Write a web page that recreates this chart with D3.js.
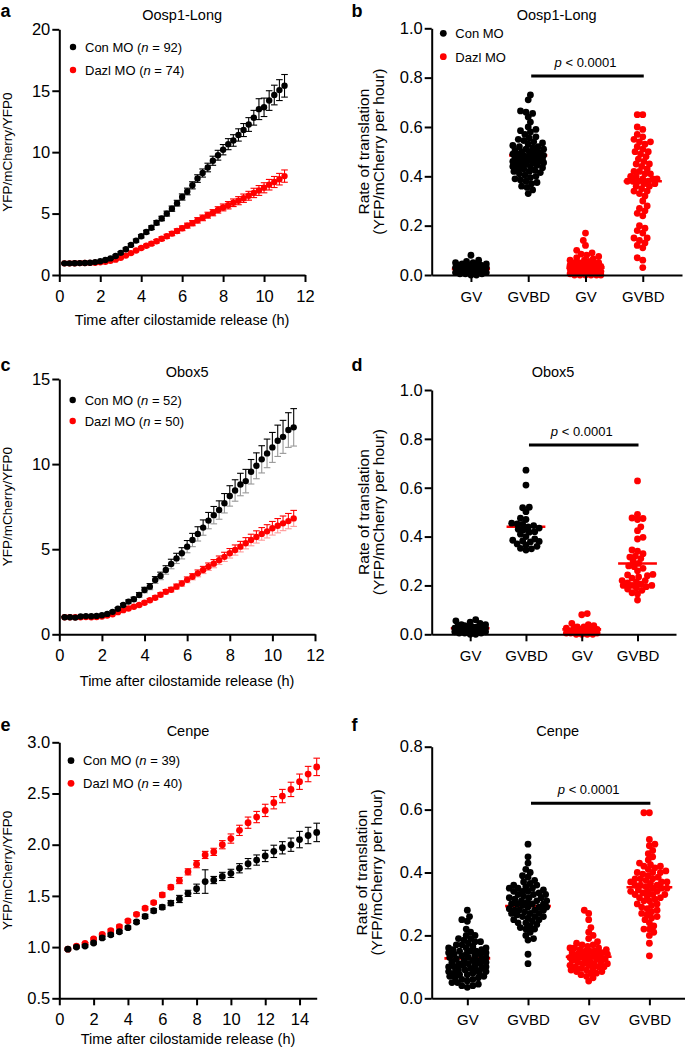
<!DOCTYPE html>
<html>
<head>
<meta charset="utf-8">
<script src="https://cdn.jsdelivr.net/npm/d3@7"></script>
<style>
body { margin: 0; background: #fff; }
svg text { font-family: "Liberation Sans", Arial, Helvetica, sans-serif; fill: #000; }
</style>
</head>
<body>
<script>
// ---- time course data (hours) ----
var timesQuarter = [0.25, 0.5, 0.75, 1, 1.25, 1.5, 1.75, 2, 2.25, 2.5, 2.75, 3, 3.25, 3.5, 3.75, 4, 4.25, 4.5, 4.75, 5, 5.25, 5.5, 5.75, 6, 6.25, 6.5, 6.75, 7, 7.25, 7.5, 7.75, 8, 8.25, 8.5, 8.75, 9, 9.25, 9.5, 9.75, 10, 10.25, 10.5, 10.75, 11];
var timesHalf = [0.5, 1, 1.5, 2, 2.5, 3, 3.5, 4, 4.5, 5, 5.5, 6, 6.5, 7, 7.5, 8, 8.5, 9, 9.5, 10, 10.5, 11, 11.5, 12, 12.5, 13, 13.5, 14, 14.5, 15];

// Oosp1-Long
var oospCon = [0.95, 0.95, 0.96, 0.97, 0.98, 1.0, 1.05, 1.12, 1.22, 1.35, 1.55, 1.8, 2.1, 2.45, 2.8, 3.15, 3.5, 3.85, 4.25, 4.6, 5.0, 5.4, 5.85, 6.35, 6.8, 7.3, 7.85, 8.3, 8.75, 9.3, 9.75, 10.2, 10.65, 10.95, 11.4, 11.8, 12.25, 12.8, 13.5, 13.65, 14.2, 14.65, 15.05, 15.4];
var oospConSem = [0.04, 0.04, 0.04, 0.04, 0.04, 0.05, 0.05, 0.05, 0.06, 0.07, 0.08, 0.09, 0.1, 0.11, 0.12, 0.13, 0.14, 0.15, 0.17, 0.18, 0.2, 0.21, 0.23, 0.25, 0.27, 0.29, 0.31, 0.33, 0.35, 0.37, 0.4, 0.42, 0.45, 0.47, 0.5, 0.53, 0.56, 0.6, 0.85, 0.75, 0.8, 0.8, 0.85, 0.92];
var oospDazl = [0.95, 0.95, 0.96, 0.97, 0.98, 0.99, 1.0, 1.03, 1.08, 1.15, 1.25, 1.4, 1.58, 1.78, 2.0, 2.2, 2.38, 2.55, 2.75, 2.95, 3.15, 3.37, 3.58, 3.8, 4.02, 4.22, 4.45, 4.65, 4.87, 5.07, 5.3, 5.5, 5.68, 5.88, 6.05, 6.25, 6.45, 6.68, 6.88, 7.1, 7.35, 7.57, 7.8, 8.05];
var oospDazlSem = [0.03, 0.03, 0.03, 0.03, 0.03, 0.03, 0.03, 0.03, 0.04, 0.05, 0.06, 0.07, 0.08, 0.09, 0.1, 0.11, 0.12, 0.13, 0.14, 0.15, 0.16, 0.17, 0.18, 0.19, 0.2, 0.21, 0.22, 0.23, 0.24, 0.25, 0.26, 0.28, 0.3, 0.31, 0.33, 0.34, 0.36, 0.38, 0.4, 0.41, 0.43, 0.45, 0.47, 0.5];

// Obox5
var oboxCon = [1.0, 1.0, 0.98, 1.05, 1.07, 1.06, 1.08, 1.12, 1.2, 1.32, 1.5, 1.72, 1.92, 2.06, 2.31, 2.6, 2.8, 3.19, 3.43, 3.78, 4.13, 4.46, 4.76, 5.15, 5.54, 5.9, 6.27, 6.68, 7.0, 7.3, 7.7, 8.13, 8.45, 8.8, 9.0, 9.55, 9.9, 10.28, 10.63, 10.98, 11.37, 11.6, 12.0, 12.16];
var oboxConSem = [0.04, 0.04, 0.04, 0.04, 0.04, 0.04, 0.04, 0.04, 0.05, 0.06, 0.07, 0.08, 0.1, 0.12, 0.14, 0.16, 0.18, 0.2, 0.22, 0.25, 0.28, 0.3, 0.33, 0.36, 0.39, 0.42, 0.45, 0.48, 0.51, 0.54, 0.57, 0.6, 0.63, 0.66, 0.69, 0.72, 0.76, 0.8, 0.84, 0.88, 0.92, 0.97, 1.02, 1.1];
var oboxDazl = [1.0, 1.0, 1.0, 1.0, 1.02, 1.0, 1.02, 1.05, 1.1, 1.18, 1.3, 1.42, 1.52, 1.62, 1.72, 1.85, 2.0, 2.15, 2.32, 2.5, 2.62, 2.8, 2.98, 3.2, 3.38, 3.58, 3.78, 3.97, 4.15, 4.35, 4.55, 4.76, 4.95, 5.15, 5.35, 5.54, 5.72, 5.9, 6.05, 6.23, 6.38, 6.52, 6.65, 6.81];
var oboxDazlSem = [0.03, 0.03, 0.03, 0.03, 0.03, 0.03, 0.03, 0.03, 0.04, 0.04, 0.05, 0.05, 0.06, 0.07, 0.08, 0.09, 0.1, 0.11, 0.12, 0.13, 0.14, 0.15, 0.16, 0.17, 0.18, 0.2, 0.21, 0.22, 0.24, 0.25, 0.27, 0.28, 0.3, 0.31, 0.33, 0.34, 0.36, 0.37, 0.39, 0.4, 0.42, 0.43, 0.45, 0.47];

// Cenpe
var cenpeCon = [0.98, 1.0, 1.01, 1.04, 1.09, 1.12, 1.15, 1.19, 1.245, 1.3, 1.355, 1.39, 1.43, 1.47, 1.525, 1.57, 1.64, 1.655, 1.69, 1.72, 1.77, 1.815, 1.85, 1.89, 1.935, 1.97, 2.0, 2.05, 2.09, 2.12];
var cenpeConSem = [0.01, 0.01, 0.01, 0.01, 0.015, 0.015, 0.015, 0.015, 0.015, 0.02, 0.02, 0.02, 0.025, 0.035, 0.03, 0.045, 0.115, 0.035, 0.04, 0.04, 0.045, 0.05, 0.05, 0.055, 0.06, 0.06, 0.065, 0.08, 0.08, 0.09];
var cenpeDazl = [0.98, 1.01, 1.035, 1.08, 1.125, 1.16, 1.2, 1.255, 1.32, 1.38, 1.435, 1.51, 1.585, 1.65, 1.735, 1.81, 1.9, 1.93, 2.0, 2.06, 2.14, 2.215, 2.27, 2.335, 2.41, 2.475, 2.54, 2.615, 2.69, 2.76];
var cenpeDazlSem = [0.01, 0.01, 0.01, 0.01, 0.01, 0.015, 0.015, 0.015, 0.015, 0.015, 0.015, 0.02, 0.02, 0.03, 0.03, 0.035, 0.035, 0.035, 0.04, 0.045, 0.05, 0.055, 0.055, 0.06, 0.06, 0.065, 0.07, 0.075, 0.075, 0.085];

// ---- rate of translation (scatter) ----
var stageLabels = ["GV", "GVBD", "GV", "GVBD"];

var oospConGV = [0.08, 0.06, 0.055, 0.05, 0.05, 0.045, 0.045, 0.04, 0.04, 0.04, 0.035, 0.035, 0.035, 0.03, 0.03, 0.03, 0.03, 0.03, 0.025, 0.025, 0.025, 0.025, 0.025, 0.02, 0.02, 0.02, 0.02, 0.02, 0.02, 0.015, 0.015, 0.015, 0.015, 0.01, 0.01, 0.01, 0.01, 0.01, 0.005, 0.005, 0.005, 0.0, 0.0, 0.03, 0.02, 0.04];
var oospConGVBD = [0.73, 0.71, 0.665, 0.66, 0.655, 0.64, 0.62, 0.6, 0.59, 0.585, 0.58, 0.57, 0.56, 0.555, 0.55, 0.545, 0.54, 0.535, 0.53, 0.525, 0.52, 0.52, 0.515, 0.51, 0.51, 0.505, 0.5, 0.5, 0.5, 0.495, 0.49, 0.49, 0.49, 0.485, 0.485, 0.48, 0.48, 0.48, 0.475, 0.475, 0.47, 0.47, 0.47, 0.465, 0.465, 0.46, 0.46, 0.46, 0.455, 0.455, 0.45, 0.45, 0.445, 0.445, 0.44, 0.44, 0.435, 0.43, 0.43, 0.425, 0.42, 0.42, 0.415, 0.41, 0.405, 0.4, 0.395, 0.39, 0.385, 0.38, 0.375, 0.37, 0.36, 0.355, 0.345, 0.33];
var oospDazlGV = [0.17, 0.14, 0.12, 0.1, 0.09, 0.085, 0.08, 0.075, 0.07, 0.065, 0.06, 0.06, 0.055, 0.05, 0.05, 0.05, 0.045, 0.045, 0.04, 0.04, 0.04, 0.035, 0.035, 0.035, 0.03, 0.03, 0.03, 0.03, 0.025, 0.025, 0.025, 0.025, 0.02, 0.02, 0.02, 0.02, 0.02, 0.015, 0.015, 0.015, 0.015, 0.01, 0.01, 0.01, 0.01, 0.01, 0.005, 0.005, 0.005, 0.005, 0.0, 0.0, 0.0, 0.0, 0.0, 0.03, 0.02, 0.01, 0.0, 0.005];
var oospDazlGVBD = [0.65, 0.65, 0.6, 0.59, 0.57, 0.56, 0.55, 0.54, 0.54, 0.53, 0.52, 0.51, 0.5, 0.5, 0.49, 0.48, 0.47, 0.46, 0.45, 0.45, 0.44, 0.43, 0.42, 0.42, 0.41, 0.41, 0.4, 0.4, 0.39, 0.39, 0.39, 0.38, 0.38, 0.38, 0.38, 0.37, 0.37, 0.36, 0.36, 0.35, 0.34, 0.34, 0.33, 0.32, 0.3, 0.28, 0.27, 0.26, 0.25, 0.24, 0.2, 0.19, 0.18, 0.17, 0.15, 0.15, 0.14, 0.13, 0.12, 0.11, 0.07, 0.06, 0.03];
var oospRateMean = [0.025, 0.485, 0.03, 0.38];

var oboxConGV = [0.06, 0.055, 0.05, 0.045, 0.04, 0.04, 0.035, 0.035, 0.03, 0.03, 0.03, 0.025, 0.025, 0.025, 0.02, 0.02, 0.02, 0.02, 0.015, 0.015, 0.015, 0.01, 0.01, 0.01, 0.01, 0.005, 0.005, 0.005, 0.0, 0.0, 0.03, 0.02];
var oboxConGVBD = [0.672, 0.611, 0.52, 0.518, 0.502, 0.475, 0.47, 0.455, 0.452, 0.45, 0.445, 0.44, 0.435, 0.43, 0.428, 0.42, 0.418, 0.41, 0.4, 0.39, 0.385, 0.382, 0.38, 0.378, 0.37, 0.366, 0.36, 0.352, 0.35, 0.345];
var oboxDazlGV = [0.085, 0.08, 0.045, 0.04, 0.035, 0.03, 0.03, 0.025, 0.025, 0.02, 0.02, 0.02, 0.015, 0.015, 0.015, 0.01, 0.01, 0.01, 0.01, 0.005, 0.005, 0.005, 0.0, 0.0, 0.0, 0.01, 0.02, 0.015, 0.005, 0.0];
var oboxDazlGVBD = [0.628, 0.491, 0.476, 0.474, 0.47, 0.44, 0.424, 0.397, 0.39, 0.345, 0.34, 0.33, 0.32, 0.316, 0.31, 0.3, 0.29, 0.28, 0.277, 0.27, 0.26, 0.245, 0.243, 0.24, 0.235, 0.23, 0.22, 0.22, 0.215, 0.21, 0.205, 0.2, 0.2, 0.2, 0.195, 0.19, 0.185, 0.18, 0.17, 0.165, 0.14];
var oboxRateMean = [0.025, 0.44, 0.02, 0.29];

var cenpeConGV = [0.28, 0.26, 0.25, 0.245, 0.22, 0.21, 0.2, 0.2, 0.19, 0.19, 0.185, 0.18, 0.18, 0.175, 0.17, 0.17, 0.165, 0.16, 0.16, 0.16, 0.155, 0.155, 0.15, 0.15, 0.15, 0.145, 0.145, 0.14, 0.14, 0.14, 0.135, 0.135, 0.13, 0.13, 0.13, 0.125, 0.125, 0.12, 0.12, 0.12, 0.115, 0.115, 0.11, 0.11, 0.11, 0.105, 0.105, 0.1, 0.1, 0.1, 0.095, 0.095, 0.09, 0.09, 0.09, 0.085, 0.085, 0.08, 0.08, 0.08, 0.075, 0.075, 0.07, 0.07, 0.065, 0.065, 0.06, 0.06, 0.055, 0.05, 0.05, 0.045, 0.04, 0.04, 0.035];
var cenpeConGVBD = [0.49, 0.45, 0.43, 0.41, 0.4, 0.39, 0.385, 0.375, 0.37, 0.365, 0.36, 0.36, 0.355, 0.35, 0.35, 0.345, 0.34, 0.34, 0.335, 0.33, 0.33, 0.325, 0.32, 0.32, 0.315, 0.31, 0.31, 0.305, 0.3, 0.3, 0.3, 0.295, 0.29, 0.29, 0.285, 0.28, 0.28, 0.28, 0.275, 0.27, 0.27, 0.265, 0.26, 0.26, 0.255, 0.25, 0.25, 0.245, 0.24, 0.24, 0.235, 0.23, 0.225, 0.22, 0.22, 0.21, 0.2, 0.19, 0.185, 0.14, 0.11, 0.33, 0.31, 0.29, 0.27, 0.35, 0.32, 0.28, 0.3, 0.26, 0.34];
var cenpeDazlGV = [0.28, 0.27, 0.25, 0.225, 0.21, 0.2, 0.19, 0.18, 0.175, 0.17, 0.17, 0.165, 0.16, 0.16, 0.16, 0.155, 0.155, 0.15, 0.15, 0.15, 0.145, 0.145, 0.14, 0.14, 0.14, 0.14, 0.135, 0.135, 0.13, 0.13, 0.13, 0.13, 0.125, 0.125, 0.12, 0.12, 0.12, 0.115, 0.115, 0.11, 0.11, 0.11, 0.105, 0.105, 0.1, 0.1, 0.1, 0.095, 0.095, 0.09, 0.09, 0.085, 0.085, 0.08, 0.08, 0.075, 0.07, 0.065, 0.055];
var cenpeDazlGVBD = [0.59, 0.59, 0.505, 0.49, 0.485, 0.47, 0.46, 0.45, 0.44, 0.43, 0.425, 0.42, 0.415, 0.41, 0.405, 0.4, 0.4, 0.395, 0.39, 0.385, 0.38, 0.38, 0.375, 0.37, 0.37, 0.365, 0.36, 0.36, 0.355, 0.35, 0.35, 0.345, 0.34, 0.34, 0.335, 0.33, 0.33, 0.325, 0.32, 0.32, 0.315, 0.31, 0.31, 0.3, 0.3, 0.295, 0.29, 0.285, 0.28, 0.275, 0.27, 0.265, 0.26, 0.255, 0.25, 0.24, 0.23, 0.22, 0.22, 0.21, 0.2, 0.175, 0.135, 0.38, 0.36, 0.34, 0.4, 0.42, 0.35, 0.37, 0.33];
var cenpeRateMean = [0.127, 0.293, 0.132, 0.353];

var RED = "#ff0000", BLACK = "#000000";
var TICK_FONT = 16.5;

var svg = d3.select("body").append("svg")
    .attr("width", 685)
    .attr("height", 1048);

function styleAxis(sel, size) {
    sel.select(".domain").attr("stroke-width", 2).attr("stroke", "#000");
    sel.selectAll(".tick line").attr("stroke-width", 2).attr("stroke", "#000");
    sel.selectAll(".tick text").style("font-size", size + "px")
        .style("font-family", "'Liberation Sans', Arial, Helvetica, sans-serif");
}

//time course panel (a, c, e)
function drawCourse(cfg) {
    var g = svg.append("g");
    var x = d3.scaleLinear().domain(cfg.xDomain).range([cfg.left, cfg.right]);
    var y = d3.scaleLinear().domain(cfg.yDomain).range([cfg.bottom, cfg.top]);

    //series: red first so black sits on top
    cfg.series.slice().reverse().forEach(function(s) {
        var pts = cfg.times.map(function(t, i) {
            return {t: t, m: s.mean[i], e: s.sem[i]};
        });
        var eb = g.append("g").attr("stroke", s.color).attr("stroke-width", 1.1);
        pts.forEach(function(p) {
            var px = x(p.t), yu = y(p.m + p.e), yl = y(p.m - p.e), ym = y(p.m);
            eb.append("line").attr("x1", px).attr("x2", px).attr("y1", yu).attr("y2", ym);
            eb.append("line").attr("x1", px - 3.3).attr("x2", px + 3.3).attr("y1", yu).attr("y2", yu);
            var low = eb.append("g").attr("opacity", cfg.fadeLow ? 0.4 : 1);
            low.append("line").attr("x1", px).attr("x2", px).attr("y1", ym).attr("y2", yl);
            low.append("line").attr("x1", px - 3.3).attr("x2", px + 3.3).attr("y1", yl).attr("y2", yl);
        });
        g.append("g").selectAll("circle")
            .data(pts)
            .enter()
            .append("circle")
            .attr("cx", function(d) { return x(d.t); })
            .attr("cy", function(d) { return y(d.m); })
            .attr("r", cfg.r)
            .attr("fill", s.color);
    });

    var yAxis = d3.axisLeft(y).tickValues(cfg.yTicks).tickSize(7).tickPadding(2).tickSizeOuter(0)
        .tickFormat(d3.format(cfg.yFormat));
    var xAxis = d3.axisBottom(x).tickValues(cfg.xTicks).tickSize(7).tickPadding(8).tickSizeOuter(0);
    styleAxis(g.append("g").attr("transform", "translate(" + cfg.left + ",0)").call(yAxis), TICK_FONT);
    styleAxis(g.append("g").attr("transform", "translate(0," + cfg.bottom + ")").call(xAxis), TICK_FONT);

    g.append("text").attr("x", (cfg.left + cfg.right) / 2).attr("y", cfg.titleY)
        .attr("text-anchor", "middle").style("font-size", "14.5px").text(cfg.title);
    g.append("text").attr("x", (cfg.left + cfg.right) / 2).attr("y", cfg.xTitleY)
        .attr("text-anchor", "middle").style("font-size", "14.5px")
        .text("Time after cilostamide release (h)");
    g.append("text")
        .attr("transform", "translate(12," + (cfg.top + cfg.bottom) / 2 + ") rotate(-90)")
        .attr("text-anchor", "middle").style("font-size", "13.5px")
        .text("YFP/mCherry/YFP0");
    g.append("text").attr("x", 0.5).attr("y", cfg.letterY)
        .style("font-size", "18px").style("font-weight", "bold").text(cfg.letter);

    //legend
    cfg.series.forEach(function(s, i) {
        var ly = cfg.legendY[i];
        g.append("circle").attr("cx", cfg.legendX).attr("cy", ly).attr("r", cfg.r).attr("fill", s.color);
        var t = g.append("text").attr("x", cfg.legendX + 12).attr("y", ly + 4.5).style("font-size", "13px");
        t.append("tspan").text(s.name + " (");
        t.append("tspan").style("font-style", "italic").text("n");
        t.append("tspan").text(" = " + s.n + ")");
    });
}

//spread dots sideways so they do not stack (overlap allowed)
function swarm(values, cx, y, r, maxOff) {
    var pts = values.map(function(v) { return {v: v, y: y(v)}; })
        .sort(function(a, b) { return b.y - a.y; });
    var placed = [];
    var minD = r * 1.5, step = 1.1;
    pts.forEach(function(p, n) {
        var best = 0, bestD = -1, done = false;
        for (var k = 0; k * step <= maxOff && !done; k++) {
            var offs = k === 0 ? [0] : (n % 2 ? [k * step, -k * step] : [-k * step, k * step]);
            for (var j = 0; j < offs.length; j++) {
                var o = offs[j], dmin = Infinity;
                placed.forEach(function(q) {
                    var d = Math.hypot(q.x - (cx + o), q.y - p.y);
                    if (d < dmin) dmin = d;
                });
                if (dmin >= minD) { best = o; done = true; break; }
                if (dmin > bestD) { bestD = dmin; best = o; }
            }
        }
        placed.push({x: cx + best, y: p.y});
    });
    return placed;
}

//scatter panel (b, d, f)
function drawScatter(cfg) {
    var g = svg.append("g");
    var x = d3.scalePoint().domain([0, 1, 2, 3]).range([cfg.left, cfg.right]).padding(cfg.pad);
    var y = d3.scaleLinear().domain(cfg.yDomain).range([cfg.bottom, cfg.top]);
    var colors = [BLACK, BLACK, RED, RED];
    var r = 3.4;

    //mean lines under the dots
    cfg.means.forEach(function(m, i) {
        g.append("line").attr("x1", x(i) - cfg.spread - r).attr("x2", x(i) + cfg.spread + r)
            .attr("y1", y(m)).attr("y2", y(m))
            .attr("stroke", RED).attr("stroke-width", 2.6);
    });

    cfg.groups.forEach(function(vals, i) {
        var pos = swarm(vals, x(i), y, r, cfg.spread);
        g.append("g").selectAll("circle")
            .data(pos)
            .enter()
            .append("circle")
            .attr("cx", function(d) { return d.x; })
            .attr("cy", function(d) { return d.y; })
            .attr("r", r)
            .attr("fill", colors[i]);
    });

    var yAxis = d3.axisLeft(y).tickValues(cfg.yTicks).tickSize(7).tickPadding(2).tickSizeOuter(0)
        .tickFormat(d3.format(".1f"));
    var xAxis = d3.axisBottom(x).tickSize(7).tickPadding(9).tickSizeOuter(0)
        .tickFormat(function(d) { return stageLabels[d]; });
    styleAxis(g.append("g").attr("transform", "translate(" + cfg.left + ",0)").call(yAxis), TICK_FONT);
    styleAxis(g.append("g").attr("transform", "translate(0," + cfg.bottom + ")").call(xAxis), 15);

    g.append("text").attr("x", cfg.titleX).attr("y", cfg.titleY)
        .attr("text-anchor", "middle").style("font-size", "14.5px").text(cfg.title);
    var yt = g.append("text")
        .attr("transform", "translate(" + cfg.yTitleX + "," + (cfg.top + cfg.bottom) / 2 + ") rotate(-90)")
        .attr("text-anchor", "middle").style("font-size", "15.5px");
    yt.append("tspan").attr("x", 0).attr("y", 0).text("Rate of translation");
    yt.append("tspan").attr("x", 0).attr("y", 15).text("(YFP/mCherry per hour)");
    g.append("text").attr("x", 351.5).attr("y", cfg.letterY)
        .style("font-size", "18px").style("font-weight", "bold").text(cfg.letter);

    //significance bar
    g.append("line").attr("x1", x(1) + 3).attr("x2", x(3) + 1)
        .attr("y1", cfg.barY).attr("y2", cfg.barY)
        .attr("stroke", "#000").attr("stroke-width", 3);
    var pt = g.append("text").attr("x", (x(1) + x(3)) / 2).attr("y", cfg.barY - 9.5)
        .attr("text-anchor", "middle").style("font-size", "13px");
    pt.append("tspan").style("font-style", "italic").text("p");
    pt.append("tspan").text(" < 0.0001");

    if (cfg.legend) {
        [["Con MO", BLACK], ["Dazl MO", RED]].forEach(function(l, i) {
            var ly = cfg.legend.y[i];
            g.append("circle").attr("cx", cfg.legend.x).attr("cy", ly).attr("r", r).attr("fill", l[1]);
            g.append("text").attr("x", cfg.legend.x + 12).attr("y", ly + 5)
                .style("font-size", "13px").text(l[0]);
        });
    }
}

drawCourse({
    letter: "a", letterY: 16.5, title: "Oosp1-Long", titleY: 20, xTitleY: 325,
    left: 59.3, right: 305, top: 29.3, bottom: 275,
    xDomain: [0, 12], yDomain: [0, 20],
    xTicks: [0, 2, 4, 6, 8, 10, 12], yTicks: [0, 5, 10, 15, 20], yFormat: "d",
    times: timesQuarter, r: 3.2,
    legendX: 73, legendY: [47, 70],
    series: [
        {name: "Con MO", n: 92, color: BLACK, mean: oospCon, sem: oospConSem},
        {name: "Dazl MO", n: 74, color: RED, mean: oospDazl, sem: oospDazlSem}
    ]
});

drawScatter({
    letter: "b", letterY: 16.5, title: "Oosp1-Long", titleX: 556.7, titleY: 20,
    left: 431.7, right: 682, pad: 0.685, top: 28.3, bottom: 275, spread: 15.7,
    yDomain: [0, 1], yTicks: [0, 0.2, 0.4, 0.6, 0.8, 1.0], yTitleX: 368.5,
    groups: [oospConGV, oospConGVBD, oospDazlGV, oospDazlGVBD], means: oospRateMean,
    barY: 76, legend: {x: 443.3, y: [33.3, 56.7]}
});

drawCourse({
    letter: "c", letterY: 370.7, title: "Obox5", titleY: 376.7, xTitleY: 686,
    left: 59.3, right: 315, top: 379, bottom: 634.3,
    xDomain: [0, 12], yDomain: [0, 15],
    xTicks: [0, 2, 4, 6, 8, 10, 12], yTicks: [0, 5, 10, 15], yFormat: "d",
    times: timesQuarter, r: 3.2, fadeLow: true,
    legendX: 72.7, legendY: [400, 421],
    series: [
        {name: "Con MO", n: 52, color: BLACK, mean: oboxCon, sem: oboxConSem},
        {name: "Dazl MO", n: 50, color: RED, mean: oboxDazl, sem: oboxDazlSem}
    ]
});

drawScatter({
    letter: "d", letterY: 370.7, title: "Obox5", titleX: 553, titleY: 376.7,
    left: 431.7, right: 676, pad: 0.69, top: 390, bottom: 634.3, spread: 16,
    yDomain: [0, 1], yTicks: [0, 0.2, 0.4, 0.6, 0.8, 1.0], yTitleX: 368.5,
    groups: [oboxConGV, oboxConGVBD, oboxDazlGV, oboxDazlGVBD], means: oboxRateMean,
    barY: 445
});

drawCourse({
    letter: "e", letterY: 730.7, title: "Cenpe", titleY: 736, xTitleY: 1044,
    left: 59.3, right: 316.7, top: 742.3, bottom: 998.3,
    xDomain: [0, 15], yDomain: [0.5, 3.0],
    xTicks: [0, 2, 4, 6, 8, 10, 12, 14], yTicks: [0.5, 1.0, 1.5, 2.0, 2.5, 3.0], yFormat: ".1f",
    times: timesHalf, r: 3.4,
    legendX: 71, legendY: [760.7, 783.3],
    series: [
        {name: "Con MO", n: 39, color: BLACK, mean: cenpeCon, sem: cenpeConSem},
        {name: "Dazl MO", n: 40, color: RED, mean: cenpeDazl, sem: cenpeDazlSem}
    ]
});

drawScatter({
    letter: "f", letterY: 730.7, title: "Cenpe", titleX: 557.7, titleY: 736,
    left: 431.7, right: 685, pad: 0.587, top: 746.7, bottom: 998.3, spread: 19.5,
    yDomain: [0, 0.8], yTicks: [0, 0.2, 0.4, 0.6, 0.8], yTitleX: 367,
    groups: [cenpeConGV, cenpeConGVBD, cenpeDazlGV, cenpeDazlGVBD], means: cenpeRateMean,
    barY: 803.3
});
</script>
</body>
</html>
